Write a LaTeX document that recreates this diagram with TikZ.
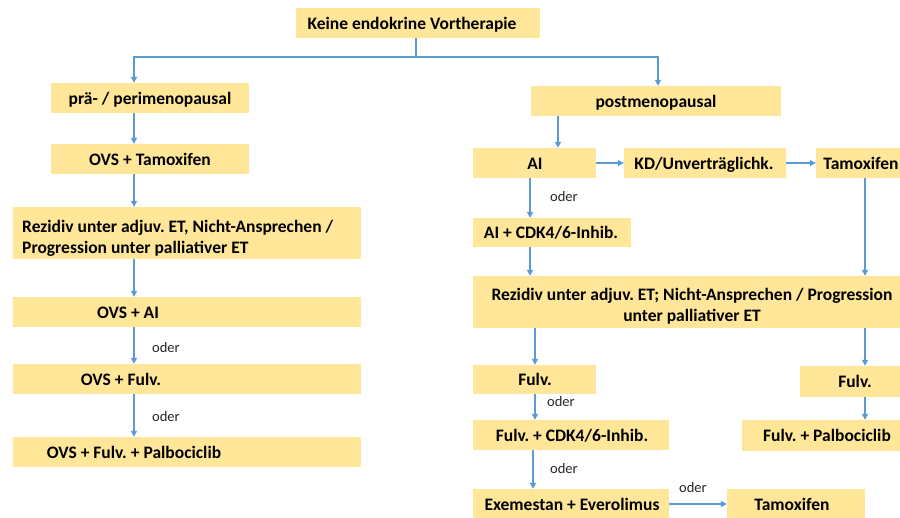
\documentclass[tikz,border=0pt]{standalone}
\usepackage{fontspec}
\setmainfont{Carlito}
\usetikzlibrary{arrows.meta,fit}
\definecolor{boxfill}{HTML}{FFE699}
\definecolor{conncol}{HTML}{5B9BD5}
\tikzset{
  box/.style={fill=boxfill, draw=none, inner sep=0pt},
  lbl/.style={font=\fontsize{17.5}{21}\selectfont\bfseries, inner sep=0pt, text=black, anchor=base},
  lbl2/.style={font=\fontsize{17.5}{21}\selectfont\bfseries, inner sep=0pt, text=black},
  oderlbl/.style={font=\fontsize{14.5}{17}\selectfont, inner sep=0pt, text=black!85, anchor=base},
  conn/.style={draw=conncol, line width=1.2pt},
  arr/.style={conn, -{Triangle[length=6pt,width=6pt]}},
}
\frenchspacing
\begin{document}
\begin{tikzpicture}[x=1pt,y=-1pt]
\clip (0,0) rectangle (900,518);
\fill[white] (0,0) rectangle (900,518);

% ---------- boxes ----------
\node[box, fit={(296,8) (540,38)}] (top) {};
\node[box, fit={(51,83) (249,113)}] (pre) {};
\node[box, fit={(51,144) (249,174)}] (ovsTam) {};
\node[box, fit={(13,207) (361,259)}] (rezL) {};
\node[box, fit={(13,297) (361,327)}] (ovsAI) {};
\node[box, fit={(13,364) (361,394)}] (ovsFulv) {};
\node[box, fit={(13,437) (361,467)}] (ovsPalbo) {};

\node[box, fit={(531,86) (781,116)}] (post) {};
\node[box, fit={(473,148) (596,178)}] (ai) {};
\node[box, fit={(624,148) (786,178)}] (kd) {};
\node[box, fit={(816,148) (914,178)}] (tamR) {};
\node[box, fit={(473,218) (631,247)}] (aicdk) {};
\node[box, fit={(473,276) (911,328)}] (rezR) {};
\node[box, fit={(473,365) (596,394)}] (fulvL) {};
\node[box, fit={(473,420) (669,450)}] (fulvcdk) {};
\node[box, fit={(473,489) (669,522)}] (exe) {};
\node[box, fit={(727,489) (865,522)}] (tamB) {};
\node[box, fit={(800,366) (910,397)}] (fulvR) {};
\node[box, fit={(742,420) (912,451)}] (fulvPalbo) {};

% ---------- texts ----------
\node[lbl] (topT) at (412,30) {Keine endokrine Vortherapie};
\node[lbl] (preT) at (150,104.5) {prä- / perimenopausal};
\node[lbl] (ovsTamT) at (150,165.5) {OVS + Tamoxifen};
\node[lbl2, anchor=west, align=left] (rezLT) at (22,238) {Rezidiv unter adjuv. ET, Nicht-Ansprechen /\\Progression unter palliativer ET};
\node[lbl] (ovsAIT) at (128,318.5) {OVS + AI};
\node[lbl] (ovsFulvT) at (121,385.5) {OVS + Fulv.};
\node[lbl] (ovsPalboT) at (134,458.5) {OVS + Fulv. + Palbociclib};

\node[lbl] (postT) at (656,107.5) {postmenopausal};
\node[lbl] (aiT) at (535,169.5) {AI};
\node[lbl] (kdT) at (704,169.5) {KD/Unverträglichk.};
\node[lbl] (tamRT) at (861,169.5) {Tamoxifen};
\node[lbl] (aicdkT) at (551,238.5) {AI + CDK4/6-Inhib.};
\node[lbl2, align=center] (rezRT) at (692,306) {Rezidiv unter adjuv. ET; Nicht-Ansprechen / Progression\\unter palliativer ET};
\node[lbl] (fulvLT) at (535,386) {Fulv.};
\node[lbl] (fulvcdkT) at (572,441.5) {Fulv. + CDK4/6-Inhib.};
\node[lbl] (exeT) at (572,511) {Exemestan + Everolimus};
\node[lbl] (tamBT) at (792,511) {Tamoxifen};
\node[lbl] (fulvRT) at (855,388) {Fulv.};
\node[lbl] (fulvPalboT) at (827,442) {Fulv. + Palbociclib};

% ---------- column coordinates ----------
\coordinate (split) at (416,57);
\coordinate (cL) at (134,0);
\coordinate (cP) at (658,0);
\coordinate (cA) at (558,0);
\coordinate (cB) at (530,0);
\coordinate (cC) at (535,0);
\coordinate (cD) at (533,0);
\coordinate (cE) at (865,0);
\coordinate (rB) at (0,504);

% ---------- connectors ----------
\draw[conn] (top.south -| split) -- (split);
\draw[arr] (split) -| (pre.north -| cL);
\draw[arr] (split) -| (post.north -| cP);
\draw[arr] (pre.south -| cL) -- (ovsTam.north -| cL);
\draw[arr] (ovsTam.south -| cL) -- (rezL.north -| cL);
\draw[arr] (rezL.south -| cL) -- (ovsAI.north -| cL);
\draw[arr] (ovsAI.south -| cL) -- (ovsFulv.north -| cL);
\draw[arr] (ovsFulv.south -| cL) -- (ovsPalbo.north -| cL);

\draw[arr] (post.south -| cA) -- (ai.north -| cA);
\draw[arr] (ai.east) -- (kd.west);
\draw[arr] (kd.east) -- (tamR.west);
\draw[arr] (ai.south -| cB) -- (aicdk.north -| cB);
\draw[arr] (aicdk.south -| cB) -- (rezR.north -| cB);
\draw[arr] (tamR.south -| cE) -- (rezR.north -| cE);
\draw[arr] (rezR.south -| cC) -- (fulvL.north -| cC);
\draw[arr] (fulvL.south -| cC) -- (fulvcdk.north -| cC);
\draw[arr] (fulvcdk.south -| cD) -- (exe.north -| cD);
\draw[arr] (exe.east |- rB) -- (tamB.west |- rB);
\draw[arr] (rezR.south -| cE) -- (fulvR.north -| cE);
\draw[arr] (fulvR.south -| cE) -- (fulvPalbo.north -| cE);

% ---------- "oder" labels ----------
\node[oderlbl] (o1) at (166,353) {oder};
\node[oderlbl] (o2) at (166,422) {oder};
\node[oderlbl] (o3) at (564,202) {oder};
\node[oderlbl] (o4) at (561,407) {oder};
\node[oderlbl] (o5) at (564,474) {oder};
\node[oderlbl] (o6) at (693,493) {oder};
\end{tikzpicture}
\end{document}
